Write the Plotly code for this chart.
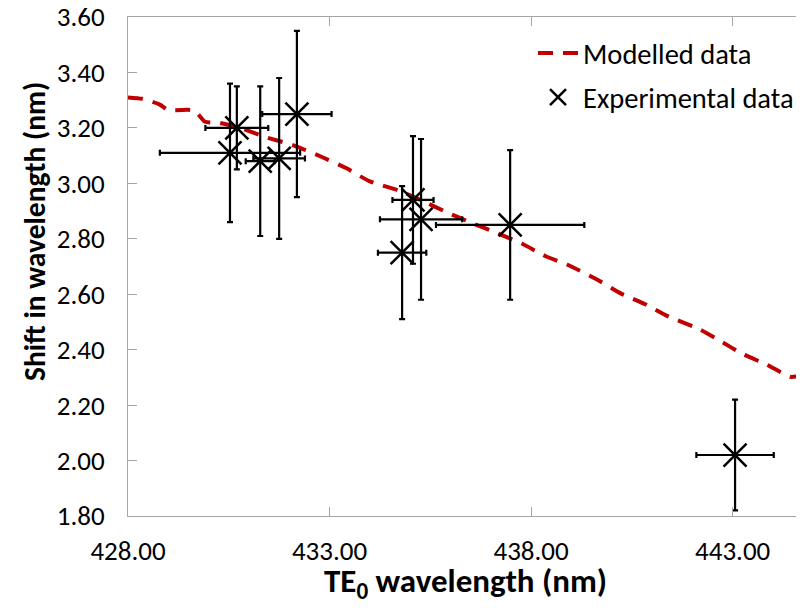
import plotly.graph_objects as go

# Modelled data (dashed red line)
model_x = [428.00, 428.35, 428.79, 428.99, 429.49, 429.66, 429.91, 430.28, 430.78, 431.40,
           432.09, 432.81, 433.41, 434.00, 434.70, 435.29, 435.87, 436.51, 437.13, 437.78,
           438.35, 438.97, 439.61, 440.21, 440.83, 441.40, 442.19, 442.64, 443.24, 443.86,
           444.43, 444.68]
model_y = [3.31, 3.305, 3.284, 3.265, 3.265, 3.262, 3.222, 3.218, 3.200, 3.167,
           3.138, 3.095, 3.055, 3.007, 2.975, 2.938, 2.898, 2.858, 2.822, 2.782,
           2.738, 2.702, 2.655, 2.604, 2.564, 2.520, 2.473, 2.436, 2.385, 2.345,
           2.302, 2.305]

# Experimental data with error bars
exp_x = [430.53, 430.70, 431.28, 431.75, 432.19, 435.07, 435.27, 437.48, 434.80, 443.06]
exp_y = [3.11, 3.20, 3.08, 3.09, 3.25, 2.94, 2.87, 2.85, 2.75, 2.02]
err_x = [1.74, 0.78, 0.36, 0.64, 0.86, 0.51, 1.02, 1.84, 0.60, 0.96]
err_y = [0.25, 0.15, 0.27, 0.29, 0.30, 0.23, 0.29, 0.27, 0.24, 0.20]

x_ticks = [428, 433, 438, 443]
y_ticks = [1.8, 2.0, 2.2, 2.4, 2.6, 2.8, 3.0, 3.2, 3.4, 3.6]

FONT = "Calibri, Carlito, Lato, sans-serif"
AXIS_GRAY = "#A6A6A6"

# page offset of the figure (default body margin)
OFF = 8
W, H = 804 - OFF, 614 - OFF
ML, MT, MB, MR = 128 - OFF, 17 - OFF, 98, 0
PW, PH = W - ML - MR, H - MT - MB


def px_to_paper(xp, yp):
    return ((xp - OFF) - ML) / PW, (H - MB - (yp - OFF)) / PH


fig = go.Figure()
fig.add_trace(go.Scatter(
    x=model_x, y=model_y, mode="lines", name="Modelled data",
    line=dict(color="#C00000", width=4, dash="15px,10px", shape="spline", smoothing=0.5),
    legendgroup="a",
))
fig.add_trace(go.Scatter(
    x=exp_x, y=exp_y, mode="markers", name="Experimental data",
    marker=dict(symbol="x-thin", size=23, line=dict(color="black", width=2.5), color="black"),
    error_x=dict(type="data", array=err_x, color="black", thickness=2.2, width=3),
    error_y=dict(type="data", array=err_y, color="black", thickness=2.2, width=3),
    legendgroup="b",
))

ax_x, ax_y = px_to_paper(465, 583)
ay_x, ay_y = px_to_paper(35, 232)
lg_x, lg_y = px_to_paper(533, 28)

fig.update_layout(
    width=W, height=H,
    margin=dict(l=ML, r=MR, t=MT, b=MB, autoexpand=False),
    paper_bgcolor="white", plot_bgcolor="white",
    font=dict(family=FONT, size=27, color="black"),
    showlegend=True,
    legend=dict(x=lg_x, y=lg_y, xanchor="left", yanchor="top",
                bgcolor="rgba(0,0,0,0)", font=dict(size=28.5),
                tracegroupgap=4, itemwidth=40),
    annotations=[
        dict(text="<b>TE<sub>0</sub> wavelength (nm)</b>", x=ax_x, y=ax_y, xref="paper", yref="paper",
             showarrow=False, font=dict(size=33), xanchor="center", yanchor="middle"),
        dict(text="<b>Shift in wavelength (nm)</b>", x=ay_x, y=ay_y, xref="paper", yref="paper",
             showarrow=False, font=dict(size=29.5), textangle=-90, xanchor="center", yanchor="middle"),
    ],
)

fig.update_xaxes(
    range=[428, 444.77], tickvals=x_ticks, ticktext=[f"{v:.2f}" for v in x_ticks],
    showgrid=False, zeroline=False, showline=True, linecolor=AXIS_GRAY, linewidth=1,
    ticks="inside", ticklen=9, tickcolor=AXIS_GRAY, mirror="ticks",
    ticklabelstandoff=11, automargin=False, ticklabeloverflow="allow",
)
fig.update_yaxes(
    range=[1.8, 3.6], tickvals=y_ticks, ticktext=[f"{v:.2f}" for v in y_ticks],
    showgrid=False, zeroline=False, showline=True, linecolor=AXIS_GRAY, linewidth=1,
    ticks="inside", ticklen=9, tickcolor=AXIS_GRAY,
    ticklabelstandoff=17, automargin=False, ticklabeloverflow="allow",
)

fig.write_html("out.html")
